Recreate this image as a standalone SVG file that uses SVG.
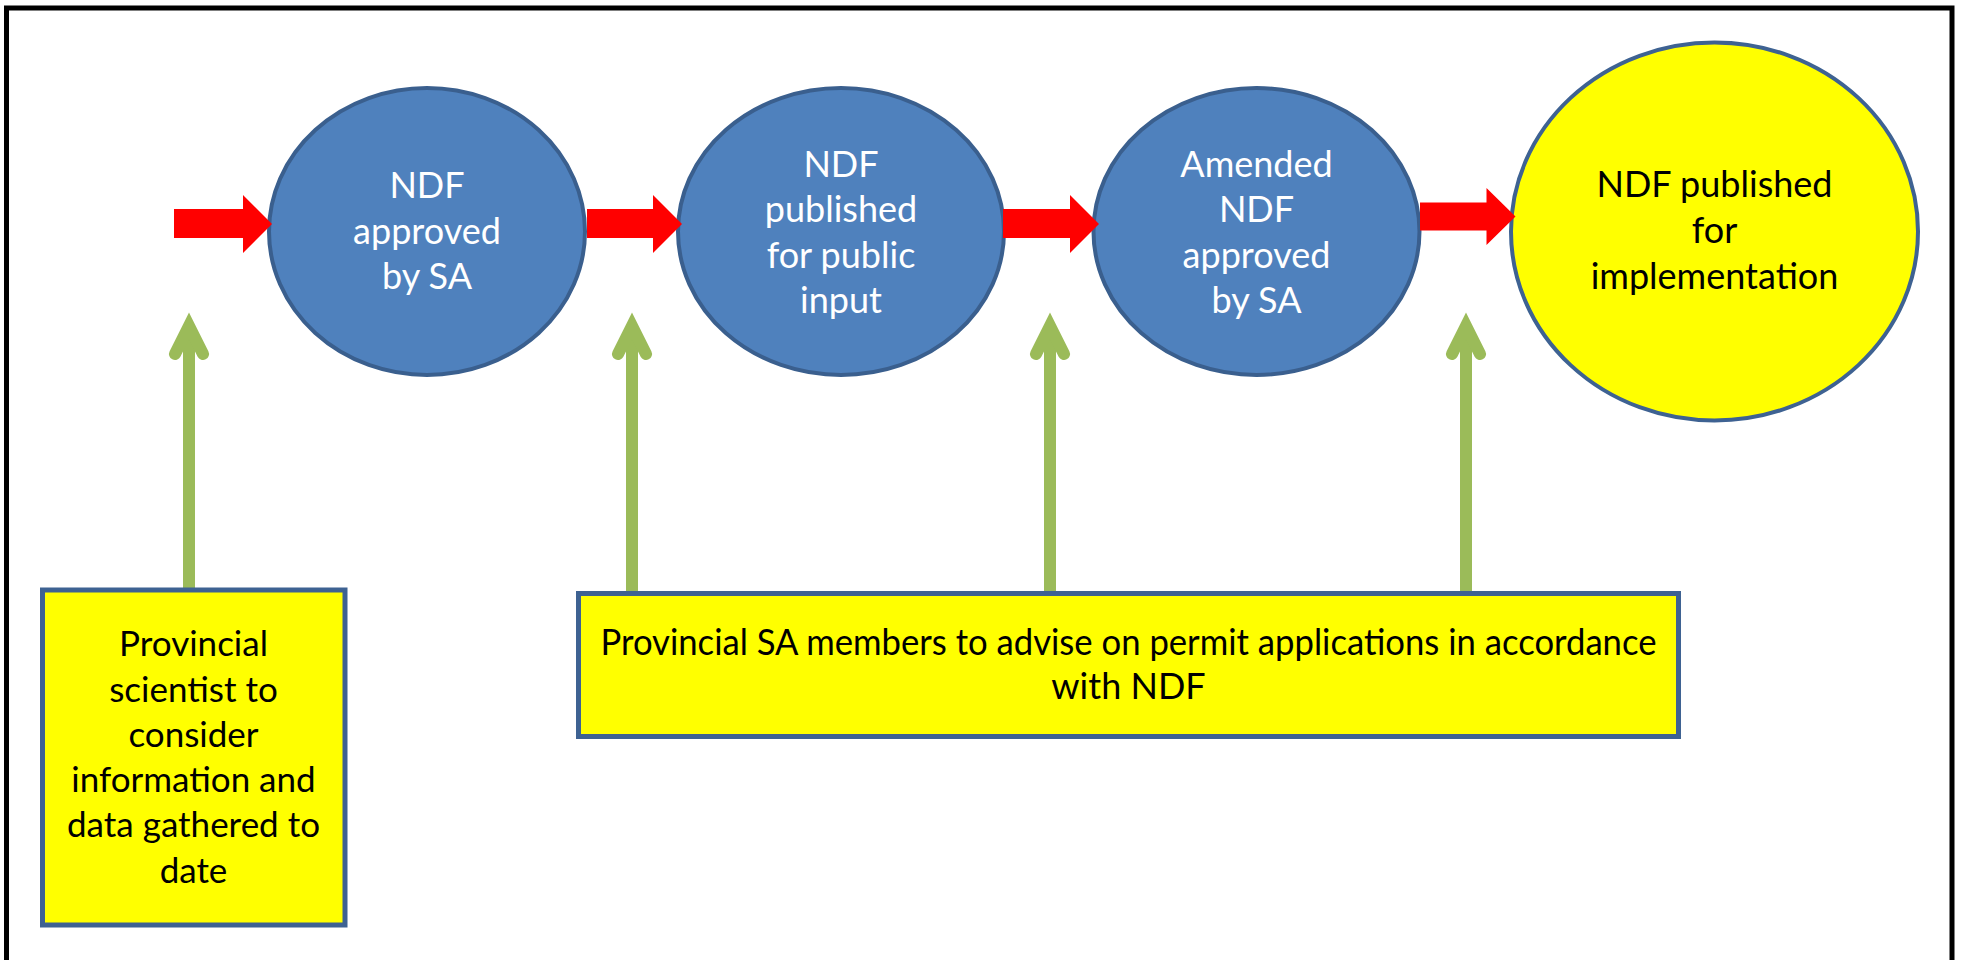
<svg xmlns="http://www.w3.org/2000/svg" width="1963" height="960" viewBox="0 0 1963 960">
<style>
.frame{fill:none;stroke:#000;stroke-width:5}
.blue{fill:#4F81BD;stroke:#3A5F8E;stroke-width:4}
.yel{fill:#FFFF00;stroke:#3E6292;stroke-width:4}
.box{fill:#FFFF00;stroke:#3E6292;stroke-width:5}
.red{fill:#FF0000}
.gshaft{stroke:#9BBB59;stroke-width:12;fill:none}
.ghead{stroke:#9BBB59;stroke-width:12;fill:none;stroke-linecap:round;stroke-linejoin:miter;stroke-miterlimit:10}
text{font-family:Lato,"Liberation Sans",sans-serif;font-size:36px;text-anchor:middle}
.w{fill:#fff}
.k{fill:#000}
.s{font-size:35px}
</style>
<rect class="frame" x="6.5" y="8" width="1945.5" height="1000"/>
<g id="node-approved">
<ellipse class="blue" cx="427" cy="231.5" rx="158" ry="143.5"/>
<text class="w" x="427" y="197.7">NDF</text>
<text class="w" x="427" y="244.3">approved</text>
<text class="w" x="427" y="288.7">by SA</text>
</g>
<g id="node-published-public">
<ellipse class="blue" cx="841" cy="231.5" rx="163" ry="143.5"/>
<text class="w" x="841" y="176.7">NDF</text>
<text class="w" x="841" y="222.3">published</text>
<text class="w" x="841" y="267.7">for public</text>
<text class="w" x="841" y="313.3">input</text>
</g>
<g id="node-amended">
<ellipse class="blue" cx="1256.5" cy="231.5" rx="163" ry="143.5"/>
<text class="w" x="1256.5" y="176.7">Amended</text>
<text class="w" x="1256.5" y="222.3">NDF</text>
<text class="w" x="1256.5" y="267.7">approved</text>
<text class="w" x="1256.5" y="313.3">by SA</text>
</g>
<g id="node-implementation">
<ellipse class="yel" cx="1714.5" cy="231.5" rx="203.5" ry="189"/>
<text class="k" x="1714.5" y="196.7">NDF published</text>
<text class="k" x="1714.5" y="243.3">for</text>
<text class="k" x="1714.5" y="288.7">implementation</text>
</g>
<g id="connectors">
<polygon class="red" points="174,209 243,209 243,195 272,224 243,253 243,238 174,238"/>
<polygon class="red" points="587,209 653,209 653,195 682,224 653,253 653,238 587,238"/>
<polygon class="red" points="1003,209 1070,209 1070,195 1099,224 1070,253 1070,238 1003,238"/>
<polygon class="red" points="1420,202.5 1486.5,202.5 1486.5,188 1515.5,216.5 1486.5,245 1486.5,230.5 1420,230.5"/>
<line class="gshaft" x1="189" y1="590" x2="189" y2="330"/>
<polyline class="ghead" points="175,354 189,326 203,354"/>
<line class="gshaft" x1="632" y1="592" x2="632" y2="330"/>
<polyline class="ghead" points="618,354 632,326 646,354"/>
<line class="gshaft" x1="1050" y1="592" x2="1050" y2="330"/>
<polyline class="ghead" points="1036,354 1050,326 1064,354"/>
<line class="gshaft" x1="1466" y1="592" x2="1466" y2="330"/>
<polyline class="ghead" points="1452,354 1466,326 1480,354"/>
</g>
<g id="box-provincial-scientist">
<rect class="box" x="42.5" y="590" width="302.5" height="335"/>
<text class="k s" x="193.5" y="656">Provincial</text>
<text class="k s" x="193.5" y="701.7">scientist to</text>
<text class="k s" x="193.5" y="746.7">consider</text>
<text class="k s" x="193.5" y="792.3">information and</text>
<text class="k s" x="193.5" y="837.3">data gathered to</text>
<text class="k s" x="193.5" y="883.3">date</text>
</g>
<g id="box-provincial-sa">
<rect class="box" x="578.5" y="593.5" width="1100" height="143"/>
<text class="k" x="1128.5" y="655" textLength="1056" lengthAdjust="spacingAndGlyphs">Provincial SA members to advise on permit applications in accordance</text>
<text class="k" x="1128.5" y="699.3">with NDF</text>
</g>
</svg>
